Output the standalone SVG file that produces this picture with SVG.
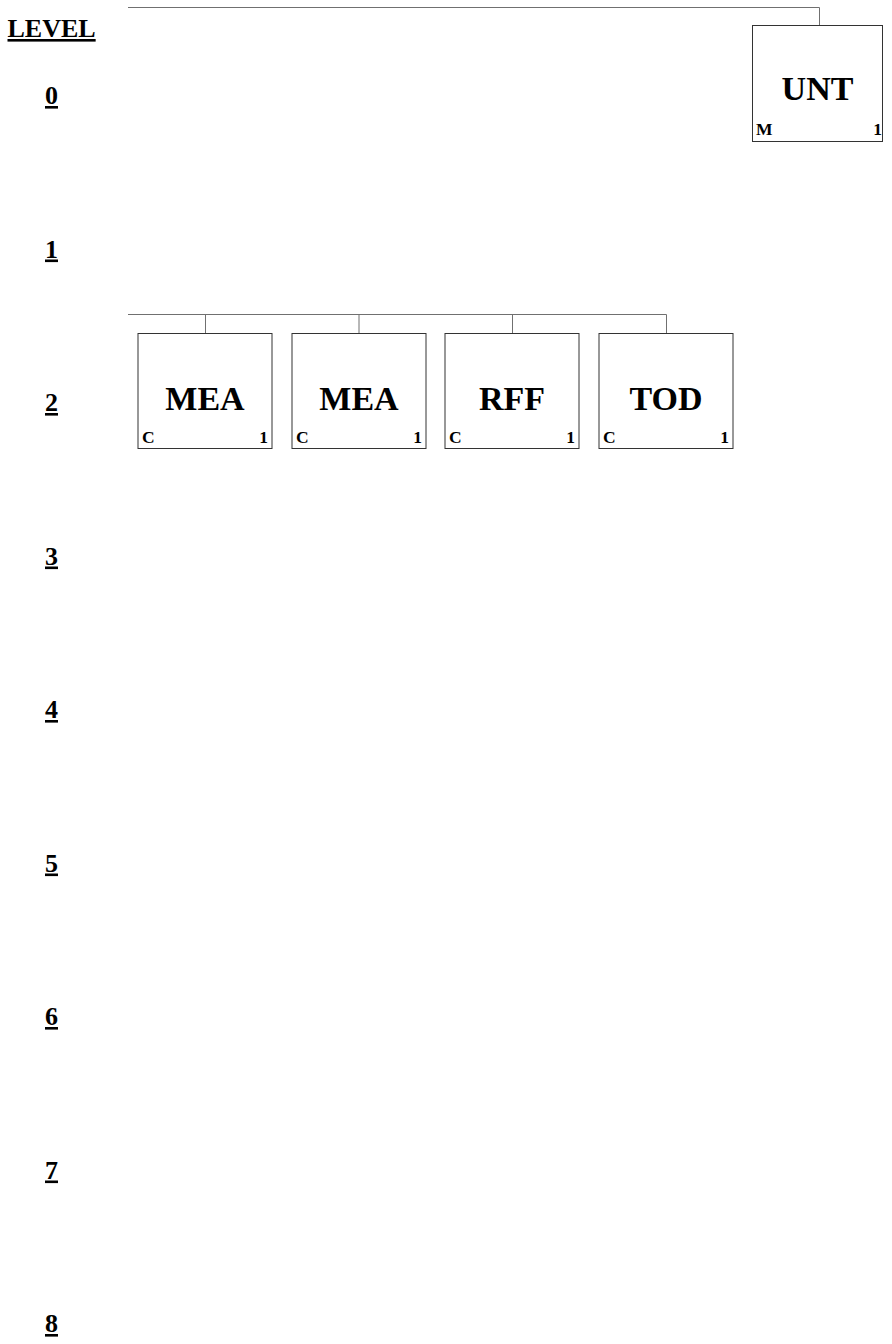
<svg xmlns="http://www.w3.org/2000/svg" width="892" height="1344" viewBox="0 0 892 1344">
<style>
.lvl{font-family:"Liberation Serif","Times New Roman",serif;font-weight:bold;font-size:26px;text-decoration:underline;fill:#000}
.box{fill:#fff;stroke:#333;stroke-width:1}
.big{font-family:"Liberation Serif","Times New Roman",serif;font-weight:bold;font-size:34px;text-anchor:middle;fill:#000}
.sm{font-family:"Liberation Serif","Times New Roman",serif;font-weight:bold;font-size:17.5px;fill:#000}
.end{text-anchor:end}
.conn{fill:none;stroke:#707070;stroke-width:1}
</style>
<rect width="892" height="1344" fill="#fff"/>
<g id="levels">
<text class="lvl" x="7.5" y="37">LEVEL</text>
<text class="lvl" x="45" y="104">0</text>
<text class="lvl" x="45" y="257.5">1</text>
<text class="lvl" x="45" y="411">2</text>
<text class="lvl" x="45" y="564.5">3</text>
<text class="lvl" x="45" y="718">4</text>
<text class="lvl" x="45" y="871.5">5</text>
<text class="lvl" x="45" y="1025">6</text>
<text class="lvl" x="45" y="1178.5">7</text>
<text class="lvl" x="45" y="1332">8</text>
</g>
<g id="connectors">
<polyline class="conn" points="128,7.5 819.5,7.5 819.5,25"/>
<polyline class="conn" points="128,314.5 666.5,314.5 666.5,333"/>
<line class="conn" x1="205.5" y1="314.5" x2="205.5" y2="333"/>
<line class="conn" x1="359" y1="314.5" x2="359" y2="333"/>
<line class="conn" x1="512.5" y1="314.5" x2="512.5" y2="333"/>
</g>
<g id="node-UNT">
<rect class="box" x="752.5" y="25.5" width="130" height="116"/>
<text class="big" x="817.5" y="100">UNT</text>
<text class="sm" x="756" y="134.5">M</text>
<text class="sm end" x="882" y="134.5">1</text>
</g>
<g id="node-MEA1">
<rect class="box" x="138" y="333.5" width="134" height="115"/>
<text class="big" x="205" y="409.5">MEA</text>
<text class="sm" x="142" y="443">C</text>
<text class="sm end" x="268" y="443">1</text>
</g>
<g id="node-MEA2">
<rect class="box" x="292" y="333.5" width="134" height="115"/>
<text class="big" x="359" y="409.5">MEA</text>
<text class="sm" x="296" y="443">C</text>
<text class="sm end" x="422" y="443">1</text>
</g>
<g id="node-RFF">
<rect class="box" x="445" y="333.5" width="134" height="115"/>
<text class="big" x="512" y="409.5">RFF</text>
<text class="sm" x="449" y="443">C</text>
<text class="sm end" x="575" y="443">1</text>
</g>
<g id="node-TOD">
<rect class="box" x="599" y="333.5" width="134" height="115"/>
<text class="big" x="666" y="409.5">TOD</text>
<text class="sm" x="603" y="443">C</text>
<text class="sm end" x="729" y="443">1</text>
</g>
</svg>
